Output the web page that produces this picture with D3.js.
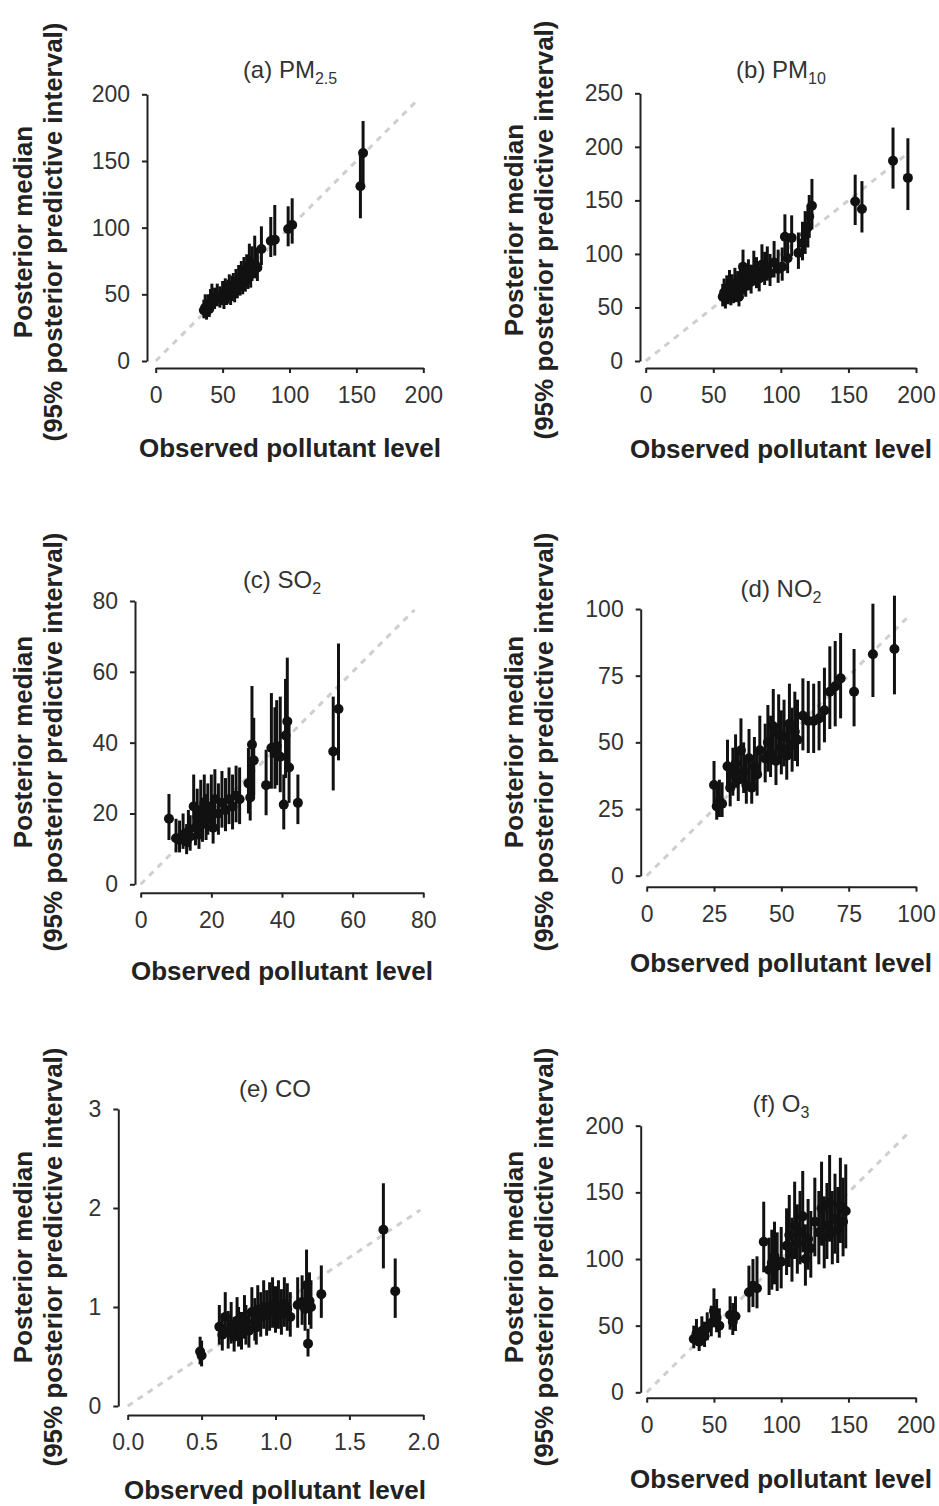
<!DOCTYPE html>
<html>
<head>
<meta charset="utf-8">
<script src="https://cdn.jsdelivr.net/npm/d3@7/dist/d3.min.js"></script>
<style>
  body { margin: 0; background: #fff; }
  svg { display: block; font-family: "Liberation Sans", Arial, sans-serif; }
</style>
</head>
<body>
<svg id="chart" width="939" height="1506"></svg>
<script>
// (a) PM2.5
const aObs = [36, 37, 38, 39, 40, 41, 42, 44, 46, 48, 50, 51, 52, 53, 54, 55, 56, 57, 58, 59, 60, 61, 62, 63, 64, 65, 66, 67, 68, 69, 70, 71, 72, 74, 76, 79, 86, 89, 99, 102, 153, 155];
const aMed = [38, 40, 37, 41, 39, 44, 47, 46, 48, 47, 50, 46, 52, 49, 51, 54, 50, 53, 55, 52, 57, 55, 60, 58, 62, 59, 64, 61, 66, 63, 68, 65, 71, 73, 70, 84, 90, 91, 99, 102, 131, 156];
const aLo  = [32, 34, 31, 35, 33, 37, 40, 39, 41, 40, 42, 39, 44, 42, 43, 46, 42, 45, 47, 44, 48, 47, 51, 49, 53, 50, 54, 52, 56, 54, 58, 55, 60, 62, 60, 72, 78, 79, 86, 88, 107, 132];
const aHi  = [46, 50, 45, 50, 47, 54, 58, 55, 58, 56, 60, 55, 62, 59, 61, 65, 60, 64, 66, 63, 69, 66, 72, 70, 75, 71, 78, 74, 80, 76, 88, 79, 86, 94, 85, 101, 108, 117, 116, 122, 155, 180];

// (b) PM10
const bObs = [57, 58, 59, 60, 61, 62, 63, 64, 65, 66, 67, 68, 69, 70, 71, 72, 73, 74, 76, 78, 80, 82, 84, 86, 88, 90, 92, 95, 98, 101, 103, 105, 108, 113, 116, 118, 120, 121, 123, 155, 160, 183, 194];
const bMed = [60, 64, 58, 66, 62, 70, 61, 67, 63, 72, 65, 69, 60, 75, 68, 88, 73, 70, 78, 74, 85, 80, 77, 90, 84, 88, 82, 92, 86, 88, 116, 96, 115, 101, 110, 118, 125, 135, 145, 149, 142, 187, 171];
const bLo  = [51, 54, 49, 56, 53, 59, 52, 57, 54, 61, 55, 59, 51, 64, 58, 75, 62, 60, 66, 63, 72, 68, 65, 77, 71, 75, 70, 78, 73, 75, 99, 82, 98, 86, 94, 100, 106, 115, 123, 127, 120, 161, 141];
const bHi  = [72, 77, 70, 80, 75, 85, 74, 81, 76, 87, 79, 84, 73, 91, 83, 104, 89, 85, 95, 90, 103, 97, 93, 109, 102, 107, 100, 112, 104, 106, 137, 116, 136, 120, 130, 140, 146, 155, 170, 174, 168, 218, 208];

// (c) SO2
const cObs = [8, 10, 11, 12, 13, 13.5, 14, 15, 15.5, 16, 16.5, 17, 17.5, 18, 18.5, 19, 20, 20.5, 21, 22, 23, 24, 25, 26, 27, 28, 30.5, 31, 31.5, 32, 35.5, 37, 38, 38.5, 39.5, 40.5, 41, 41.5, 42, 44.5, 54.5, 56];
const cMed = [18.5, 13, 12.5, 14, 12, 15, 13.5, 22, 16, 19, 14, 21, 17, 23, 18, 20, 22, 16, 24, 20, 23, 21, 24, 22, 25, 24, 28.5, 24.5, 39.5, 35, 28, 38.5, 37, 39, 36, 22.5, 42, 46, 33, 23, 37.5, 49.5];
const cLo  = [12.5, 9, 9, 10, 8.5, 10.5, 9.5, 15.5, 11, 13.5, 10, 15, 12, 16, 12.5, 14, 15.5, 11.5, 17, 14, 16, 15, 17, 15.5, 17.5, 17, 20, 18, 24, 25, 19.5, 27, 27, 28, 26, 15.5, 30, 33, 23, 17, 26.5, 35];
const cHi  = [25.5, 18.5, 18, 20, 17, 21, 19.5, 31, 23, 27, 20, 29.5, 24.5, 31, 25.5, 28.5, 31, 23, 32.5, 28.5, 32, 30, 33, 31, 33.5, 33, 38.5, 34, 56, 47, 38, 54, 50, 52, 53, 31, 58, 64, 45, 31, 53, 68];

// (d) NO2
const dObs = [25, 26, 27, 28, 30, 31, 32, 33, 34, 35, 36, 37, 38, 39, 40, 41, 42, 44, 45, 46, 47, 48, 49, 50, 51, 52, 53, 54, 55, 56, 58, 60, 62, 64, 66, 68, 70, 72, 77, 84, 92];
const dMed = [34, 26, 28, 27, 41, 33, 38, 42, 36, 47, 39, 34, 44, 33, 41, 38, 47, 44, 50, 46, 56, 43, 53, 48, 52, 45, 57, 49, 54, 51, 60, 58, 58, 59, 62, 69, 71, 74, 69, 83, 85];
const dLo  = [27, 21, 22, 22, 32, 26, 30, 33, 28, 37, 31, 27, 35, 27, 32, 30, 37, 35, 39, 37, 44, 34, 42, 38, 41, 36, 45, 39, 43, 41, 47, 46, 46, 47, 50, 55, 56, 59, 56, 67, 68];
const dHi  = [43, 33, 36, 35, 51, 42, 48, 53, 46, 59, 50, 44, 55, 42, 52, 48, 60, 57, 64, 60, 70, 56, 68, 62, 66, 58, 72, 63, 69, 66, 74, 73, 72, 73, 78, 86, 88, 91, 85, 102, 105];

// (e) CO
const eObs = [0.49, 0.5, 0.62, 0.64, 0.66, 0.68, 0.7, 0.72, 0.74, 0.75, 0.77, 0.79, 0.8, 0.82, 0.84, 0.86, 0.87, 0.88, 0.9, 0.92, 0.94, 0.96, 0.98, 1.0, 1.02, 1.04, 1.06, 1.08, 1.1, 1.15, 1.18, 1.2, 1.21, 1.22, 1.23, 1.24, 1.31, 1.73, 1.81];
const eMed = [0.55, 0.51, 0.8, 0.72, 0.9, 0.75, 0.82, 0.7, 0.86, 0.78, 0.74, 0.88, 0.8, 0.76, 0.95, 0.85, 0.8, 0.97, 0.9, 1.0, 0.92, 0.98, 1.02, 0.95, 1.0, 0.93, 1.03, 0.98, 0.9, 1.02, 1.05, 0.98, 1.22, 0.63, 1.06, 1.0, 1.13, 1.78, 1.16];
const eLo  = [0.42, 0.4, 0.62, 0.56, 0.7, 0.58, 0.63, 0.55, 0.66, 0.6, 0.57, 0.68, 0.62, 0.59, 0.74, 0.66, 0.62, 0.75, 0.7, 0.78, 0.71, 0.76, 0.79, 0.74, 0.78, 0.72, 0.8, 0.76, 0.7, 0.79, 0.82, 0.76, 0.95, 0.5, 0.82, 0.78, 0.89, 1.39, 0.89];
const eHi  = [0.7, 0.66, 1.02, 0.93, 1.15, 0.96, 1.05, 0.9, 1.1, 1.0, 0.95, 1.12, 1.02, 0.97, 1.2, 1.09, 1.02, 1.22, 1.15, 1.27, 1.17, 1.25, 1.3, 1.21, 1.27, 1.18, 1.3, 1.24, 1.15, 1.3, 1.32, 1.25, 1.58, 0.78, 1.35, 1.27, 1.42, 2.25, 1.49];

// (f) O3
const fObs = [35, 37, 39, 41, 43, 45, 48, 50, 52, 54, 62, 64, 66, 76, 79, 82, 87, 91, 93, 95, 97, 100, 104, 106, 108, 110, 112, 114, 116, 118, 120, 122, 125, 128, 130, 132, 134, 136, 138, 140, 142, 144, 146, 148];
const fMed = [40, 44, 38, 46, 42, 48, 52, 61, 56, 50, 58, 53, 57, 75, 80, 78, 113, 92, 97, 102, 95, 98, 110, 118, 104, 125, 112, 120, 132, 100, 115, 108, 128, 120, 138, 117, 125, 142, 120, 130, 122, 140, 128, 136];
const fLo  = [33, 36, 31, 38, 34, 39, 42, 49, 45, 41, 47, 43, 46, 60, 64, 63, 90, 73, 77, 81, 76, 78, 88, 94, 83, 100, 89, 96, 105, 80, 92, 86, 102, 96, 110, 93, 100, 113, 96, 104, 97, 112, 102, 108];
const fHi  = [50, 55, 48, 57, 53, 60, 65, 78, 70, 63, 72, 67, 72, 95, 100, 102, 143, 116, 122, 128, 120, 124, 138, 148, 131, 158, 141, 151, 166, 126, 145, 136, 161, 151, 173, 147, 157, 178, 151, 164, 154, 176, 161, 171];

// axis ticks and panel titles
const ticks200 = [0, 50, 100, 150, 200];
const ticks250 = [0, 50, 100, 150, 200, 250];
const ticks80 = [0, 20, 40, 60, 80];
const ticks100 = [0, 25, 50, 75, 100];
const ticksCOx = [0, 0.5, 1, 1.5, 2];
const ticksCOy = [0, 1, 2, 3];
const titleMain = ['(a) PM', '(b) PM', '(c) SO', '(d) NO', '(e) CO', '(f) O'];
const titleSub = ['2.5', '10', '2', '2', '', '3'];
const diagEnd = [194, 193, 77.5, 96.5, 1.98, 194];

const panels = [
  { obs: aObs, med: aMed, lo: aLo, hi: aHi, xt: ticks200, yt: ticks200, fmt: d3.format('d'),
    axX: 147, x0: 155.7, x1: 423.3, axY: 368, y0: 361, y1: 94.3, cx: 290, tY: 78, xtY: 457, ytX: 32, ytY: 232 },
  { obs: bObs, med: bMed, lo: bLo, hi: bHi, xt: ticks200, yt: ticks250, fmt: d3.format('d'),
    axX: 640, x0: 645.7, x1: 916, axY: 368, y0: 361, y1: 93.3, cx: 781, tY: 78, xtY: 458, ytX: 523, ytY: 230 },
  { obs: cObs, med: cMed, lo: cLo, hi: cHi, xt: ticks80, yt: ticks80, fmt: d3.format('d'),
    axX: 135, x0: 140.7, x1: 423.3, axY: 892.7, y0: 884.3, y1: 601, cx: 282, tY: 588, xtY: 980, ytX: 32, ytY: 742 },
  { obs: dObs, med: dMed, lo: dLo, hi: dHi, xt: ticks100, yt: ticks100, fmt: d3.format('d'),
    axX: 640.7, x0: 646.7, x1: 916, axY: 886.7, y0: 875.7, y1: 609, cx: 781, tY: 597, xtY: 972, ytX: 523, ytY: 742 },
  { obs: eObs, med: eMed, lo: eLo, hi: eHi, xt: ticksCOx, yt: ticksCOy, fmt: d3.format('.1f'), yfmt: d3.format('d'),
    axX: 118.3, x0: 127.7, x1: 423.3, axY: 1415, y0: 1406, y1: 1109, cx: 275, tY: 1097, xtY: 1499, ytX: 32, ytY: 1257 },
  { obs: fObs, med: fMed, lo: fLo, hi: fHi, xt: ticks200, yt: ticks200, fmt: d3.format('d'),
    axX: 640.7, x0: 646.7, x1: 915.7, axY: 1397.7, y0: 1392.3, y1: 1125.7, cx: 781, tY: 1112, xtY: 1488, ytX: 523, ytY: 1257 }
];

const svg = d3.select('#chart');
svg.append('rect').attr('width', 939).attr('height', 1506).attr('fill', '#fff');

panels.forEach((p, i) => {
  const g = svg.append('g');
  const x = d3.scaleLinear().domain([p.xt[0], p.xt[p.xt.length - 1]]).range([p.x0, p.x1]);
  const y = d3.scaleLinear().domain([p.yt[0], p.yt[p.yt.length - 1]]).range([p.y0, p.y1]);

  // 1:1 reference line
  g.append('line')
    .attr('x1', x(0)).attr('y1', y(0))
    .attr('x2', x(diagEnd[i])).attr('y2', y(diagEnd[i]))
    .attr('stroke', '#cfcfcf').attr('stroke-width', 3)
    .attr('stroke-dasharray', '6,6');

  const pts = p.obs.map((o, k) => ({ o, m: p.med[k], lo: p.lo[k], hi: p.hi[k] }));

  g.selectAll('.bar').data(pts).enter().append('line')
    .attr('x1', d => x(d.o)).attr('x2', d => x(d.o))
    .attr('y1', d => y(d.lo)).attr('y2', d => y(d.hi))
    .attr('stroke', '#111').attr('stroke-width', 3);

  g.selectAll('.dot').data(pts).enter().append('circle')
    .attr('cx', d => x(d.o)).attr('cy', d => y(d.m)).attr('r', 5)
    .attr('fill', '#111');

  // axes (R style, detached)
  const xa = g.append('g').attr('transform', `translate(0,${p.axY})`)
    .call(d3.axisBottom(x).tickValues(p.xt).tickFormat(p.fmt).tickSize(5).tickSizeOuter(0).tickPadding(14));
  const ya = g.append('g').attr('transform', `translate(${p.axX},0)`)
    .call(d3.axisLeft(y).tickValues(p.yt).tickFormat(p.yfmt || p.fmt).tickSize(5).tickSizeOuter(0).tickPadding(12));
  [xa, ya].forEach(a => {
    a.select('.domain').attr('stroke', '#222').attr('stroke-width', 2);
    a.selectAll('.tick line').attr('stroke', '#222').attr('stroke-width', 2);
    a.selectAll('.tick text').attr('fill', '#333').style('font-size', '23px')
      .style('font-family', '"Liberation Sans", Arial, sans-serif');
  });

  // panel title with subscript
  const t = g.append('text').attr('x', p.cx).attr('y', p.tY)
    .attr('text-anchor', 'middle').attr('fill', '#333').style('font-size', '24px')
    .text(titleMain[i]);
  if (titleSub[i]) {
    t.append('tspan').attr('dy', 6).style('font-size', '16px').text(titleSub[i]);
  }

  // axis titles
  g.append('text').attr('x', p.cx).attr('y', p.xtY)
    .attr('text-anchor', 'middle').attr('fill', '#222')
    .style('font-size', '26px').style('font-weight', 'bold')
    .text('Observed pollutant level');

  const yt = g.append('g').attr('transform', `translate(${p.ytX},${p.ytY}) rotate(-90)`);
  yt.append('text').attr('text-anchor', 'middle').attr('fill', '#222')
    .style('font-size', '26px').style('font-weight', 'bold')
    .text('Posterior median');
  yt.append('text').attr('y', 30).attr('text-anchor', 'middle').attr('fill', '#222')
    .style('font-size', '26px').style('font-weight', 'bold')
    .text('(95% posterior predictive interval)');
});
</script>
</body>
</html>
